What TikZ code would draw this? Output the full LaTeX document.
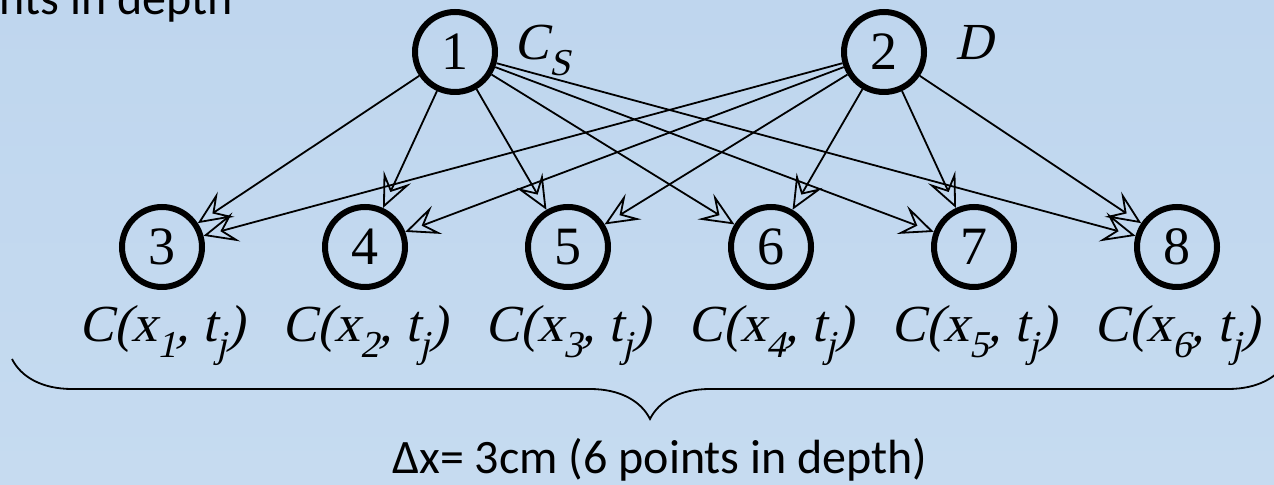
\documentclass[tikz,border=0pt]{standalone}
\usepackage{fontspec}
\setmainfont{Liberation Serif}
\newfontfamily\serfont{Liberation Serif}
\newfontfamily\slfont{Liberation Serif}[FakeSlant=0.22]
\newfontfamily\notefont{Carlito}
\usetikzlibrary{arrows.meta, positioning, decorations.pathreplacing}
\definecolor{bgtop}{HTML}{BFD6EE}
\definecolor{bgmid}{HTML}{B3D1EC}
\definecolor{bgbot}{HTML}{C6DBF0}
\tikzset{
  state/.style = {circle, draw=black, line width=3pt, minimum size=40pt,
                  inner sep=0pt, font=\serfont\fontsize{27}{27}\selectfont},
  flow/.style  = {-{Stealth[open, length=17pt, width=15pt, inset=7pt]}, line width=0.9pt},
  lbl/.style   = {font=\slfont\fontsize{26}{28}\selectfont, inner sep=0pt},
  note/.style  = {font=\notefont\fontsize{24}{27}\selectfont, inner sep=0pt},
  brc/.style   = {decorate, decoration={brace, mirror, amplitude=30pt}, line width=0.9pt},
}
\newcommand{\lowsub}[1]{\raisebox{-8pt}{\fontsize{19}{19}\selectfont #1}}

\begin{document}
\begin{tikzpicture}[x=0.5pt, y=-0.5pt]
	\shade[top color=bgtop, middle color=bgmid, bottom color=bgbot] (0,0) rectangle (1274,485);
	\useasboundingbox (0,0) rectangle (1274,485);
	% top nodes
	\node[state] (n1) at (455,52) {1};
	\node[state] (n2) at (884,52) {2};
	\node[lbl, anchor=base west] (cs) at (514,60) {C\lowsub{S}};
	\node[lbl, anchor=base west] (dd) at (955,60) {D};
	% bottom nodes and labels
	\foreach \i/\x in {1/162, 2/365, 3/568, 4/771, 5/974, 6/1177}{
		\pgfmathtruncatemacro{\k}{\i+2}
		\node[state] (n\k) at (\x,247) {\k};
		\node[lbl, anchor=base] (c\i) at (\x,342) {C(x\lowsub{\i}, t\lowsub{j})};
	}
	\foreach \k in {3,...,8}{
		\draw[flow] (n1) -- (n\k);
		\draw[flow] (n2) -- (n\k);
	}
	% brace and note
	\coordinate (bl) at (12,359);
	\coordinate (br) at (1288,359);
	\draw[brc] (bl) -- (br);
	\node[note, anchor=base] (dx) at (660,474) {Δx= 3cm (6 points in depth)};
	\node[note, anchor=base east] (top) at (233,15) {ints in depth};
\end{tikzpicture}
\end{document}
